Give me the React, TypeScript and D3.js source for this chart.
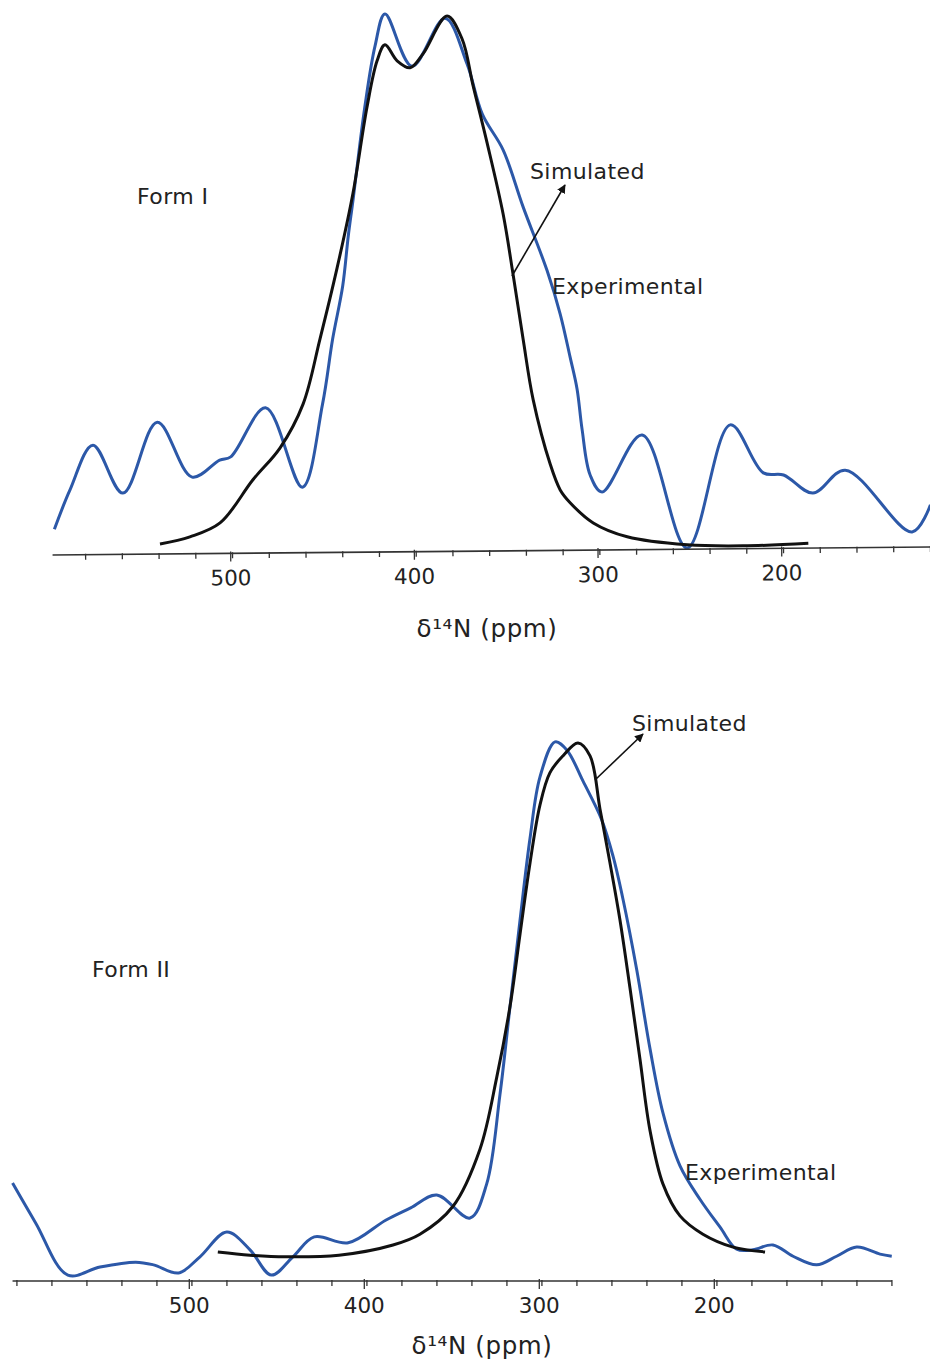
import React from 'react';
import * as d3 from 'd3';

// [ppm, relative intensity]
const form1Experimental = [
  [596, 3.5], [587.5, 10.9], [575, 19.3], [558.7, 10.3], [540, 23.6], [521, 13.3], [506, 16.5],
  [500, 17.1], [481, 26.3], [461, 11.4], [450, 27], [444.5, 39.2], [439, 49.2], [436, 58.5],
  [433.4, 65.3], [427, 82.7], [421.4, 94.2], [416, 100.2], [401.3, 90.4], [383.3, 99.4],
  [371.3, 90.8], [363, 81.4], [351.7, 74.7], [340.8, 64], [327.7, 52], [320.6, 43.9],
  [315.2, 35.8], [311.4, 29.8], [308.7, 22.3], [304.3, 13.7], [297.8, 10.5], [276, 21.2],
  [251.5, 0], [228, 23.1], [210, 14.1], [199, 13.7], [183, 10.3], [165.4, 14.6], [129, 3],
  [119, 8.1],
];
const form1Simulated = [
  [538.5, 0.75], [522.2, 2.1], [505.8, 4.7], [487.9, 12.8], [473.1, 18.8], [460.6, 27],
  [451.4, 39.2], [442.1, 52.5], [433.4, 66.6], [425.8, 82.7], [420.3, 91.4], [416, 94.4],
  [409.4, 91.4], [402.3, 90.1], [395.3, 92.7], [382.2, 99.8], [374, 95.5], [368, 86.7],
  [360.4, 76], [351.7, 62.7], [346.2, 51.2], [340.8, 39.2], [335.3, 27.8], [326.1, 15.8],
  [320.6, 10.9], [315.2, 8.5], [302.6, 4.7], [284.1, 2.1], [251.5, 0.6], [221, 0.4], [185.5, 0.9],
];
const form2Experimental = [
  [601, 18.2], [587.8, 10.8], [569.4, 1.1], [551, 2.6], [530.6, 3.5], [520.4, 3], [506.1, 1.5],
  [493.9, 4.5], [478.6, 9.1], [465.3, 5.8], [453.1, 1.1], [440.8, 4.5], [428.6, 8.2],
  [409.2, 7.1], [387.8, 11.3], [373.5, 13.6], [358.6, 16], [339.6, 11.7], [330.1, 18],
  [322.5, 34.6], [316.7, 51.1], [311, 67.1], [305.3, 82.3], [299.6, 93.7], [291, 100.2],
  [284.3, 98.7], [275, 92.9], [264.3, 85.7], [257.9, 79], [252.2, 71], [244.3, 57.8],
  [236.7, 43.1], [229.3, 31.2], [219.6, 21.4], [208.2, 15.2], [196.7, 10], [187.2, 5.9],
  [177.9, 5.8], [166.5, 6.7], [155, 4.6], [141.5, 3], [130.1, 4.6], [118.6, 6.3], [105.3, 5],
  [98.6, 4.6],
];
const form2Simulated = [
  [483.7, 5.4], [465.3, 4.8], [444.9, 4.5], [414.5, 4.8], [383.6, 6.7], [368.2, 8.7],
  [349.3, 13.9], [333.9, 24.5], [324.3, 37.9], [316.7, 51.1], [311, 64.5], [305.3, 77.7],
  [299.6, 88.5], [293.9, 94.5], [286.5, 97.6], [277.9, 100], [271, 97.6], [265.3, 87.7],
  [259.6, 77.7], [253.9, 67.1], [248.2, 54.5], [242.5, 41.3], [236.7, 27.9], [229.3, 18],
  [219.6, 12.1], [206.5, 8.7], [189.3, 6.3], [171, 5.4],
];

const tickLabels = [500, 400, 300, 200];

const BLUE = '#2c58a8';
const FONT = 'DejaVu Sans, Verdana, sans-serif';

function Axis({ x, y, from, to, tilt }) {
  const minor = d3.range(to, from, 20).filter((v) => v % 100 !== 0);
  const x0 = x(from);
  const x1 = x(to);
  return (
    <g transform={`rotate(${tilt}, ${x0}, ${y})`}>
      <line x1={x0} x2={x1} y1={y} y2={y} stroke="#333" strokeWidth={1.6} />
      {minor.map((v) => (
        <line key={v} x1={x(v)} x2={x(v)} y1={y - 1} y2={y + 5} stroke="#333" strokeWidth={1.3} />
      ))}
      {tickLabels.map((v) => (
        <g key={v}>
          <line x1={x(v)} x2={x(v)} y1={y - 2} y2={y + 8} stroke="#333" strokeWidth={1.3} />
          <text x={x(v)} y={y + 32} textAnchor="middle" fontSize={21.5} fill="#222" fontFamily={FONT}>
            {v}
          </text>
        </g>
      ))}
    </g>
  );
}

function Panel({ x, y, exp, sim }) {
  const line = d3.line()
    .x((d) => x(d[0]))
    .y((d) => y(d[1]))
    .curve(d3.curveCatmullRom.alpha(0.5));
  return (
    <g>
      <path d={line(exp)} fill="none" stroke={BLUE} strokeWidth={3} strokeLinejoin="round" />
      <path d={line(sim)} fill="none" stroke="#111" strokeWidth={3} strokeLinejoin="round" />
    </g>
  );
}

function Label({ x, y, children }) {
  return (
    <text x={x} y={y} fontSize={22} letterSpacing={0.4} fontFamily={FONT} fill="#222">
      {children}
    </text>
  );
}

export default function App() {
  const x1 = d3.scaleLinear().domain([500, 200]).range([230.7, 781.7]);
  const y1 = d3.scaleLinear().domain([0, 100]).range([548, 15]);
  const x2 = d3.scaleLinear().domain([500, 200]).range([189.3, 714.3]);
  const y2 = d3.scaleLinear().domain([0, 100]).range([1281, 743]);

  return (
    <svg width={930} height={1364} style={{ position: 'absolute', left: 0, top: 0, background: '#fff' }}>
      <defs>
        <marker id="arr" viewBox="0 0 10 10" refX={9} refY={5} markerWidth={5.5} markerHeight={5.5} orient="auto">
          <path d="M0,0 L10,5 L0,10 z" fill="#111" />
        </marker>
      </defs>

      {/* Form I */}
      <Panel x={x1} y={y1} exp={form1Experimental} sim={form1Simulated} />
      <Axis x={x1} y={555} from={597} to={119} tilt={-0.52} />
      <Label x={137} y={204}>Form I</Label>
      <Label x={530} y={179}>Simulated</Label>
      <Label x={552} y={294}>Experimental</Label>
      <line x1={512} y1={276} x2={565} y2={185} stroke="#111" strokeWidth={1.6} markerEnd="url(#arr)" />
      <text x={487} y={637} textAnchor="middle" fontSize={24.5} letterSpacing={0.6} fontFamily={FONT} fill="#222">δ¹⁴N (ppm)</text>

      {/* Form II */}
      <Panel x={x2} y={y2} exp={form2Experimental} sim={form2Simulated} />
      <Axis x={x2} y={1281} from={601} to={98.5} tilt={0} />
      <Label x={92} y={977}>Form II</Label>
      <Label x={632} y={731}>Simulated</Label>
      <Label x={685} y={1180}>Experimental</Label>
      <line x1={595} y1={780} x2={643} y2={734} stroke="#111" strokeWidth={1.6} markerEnd="url(#arr)" />
      <text x={482} y={1354} textAnchor="middle" fontSize={24.5} letterSpacing={0.6} fontFamily={FONT} fill="#222">δ¹⁴N (ppm)</text>
    </svg>
  );
}
